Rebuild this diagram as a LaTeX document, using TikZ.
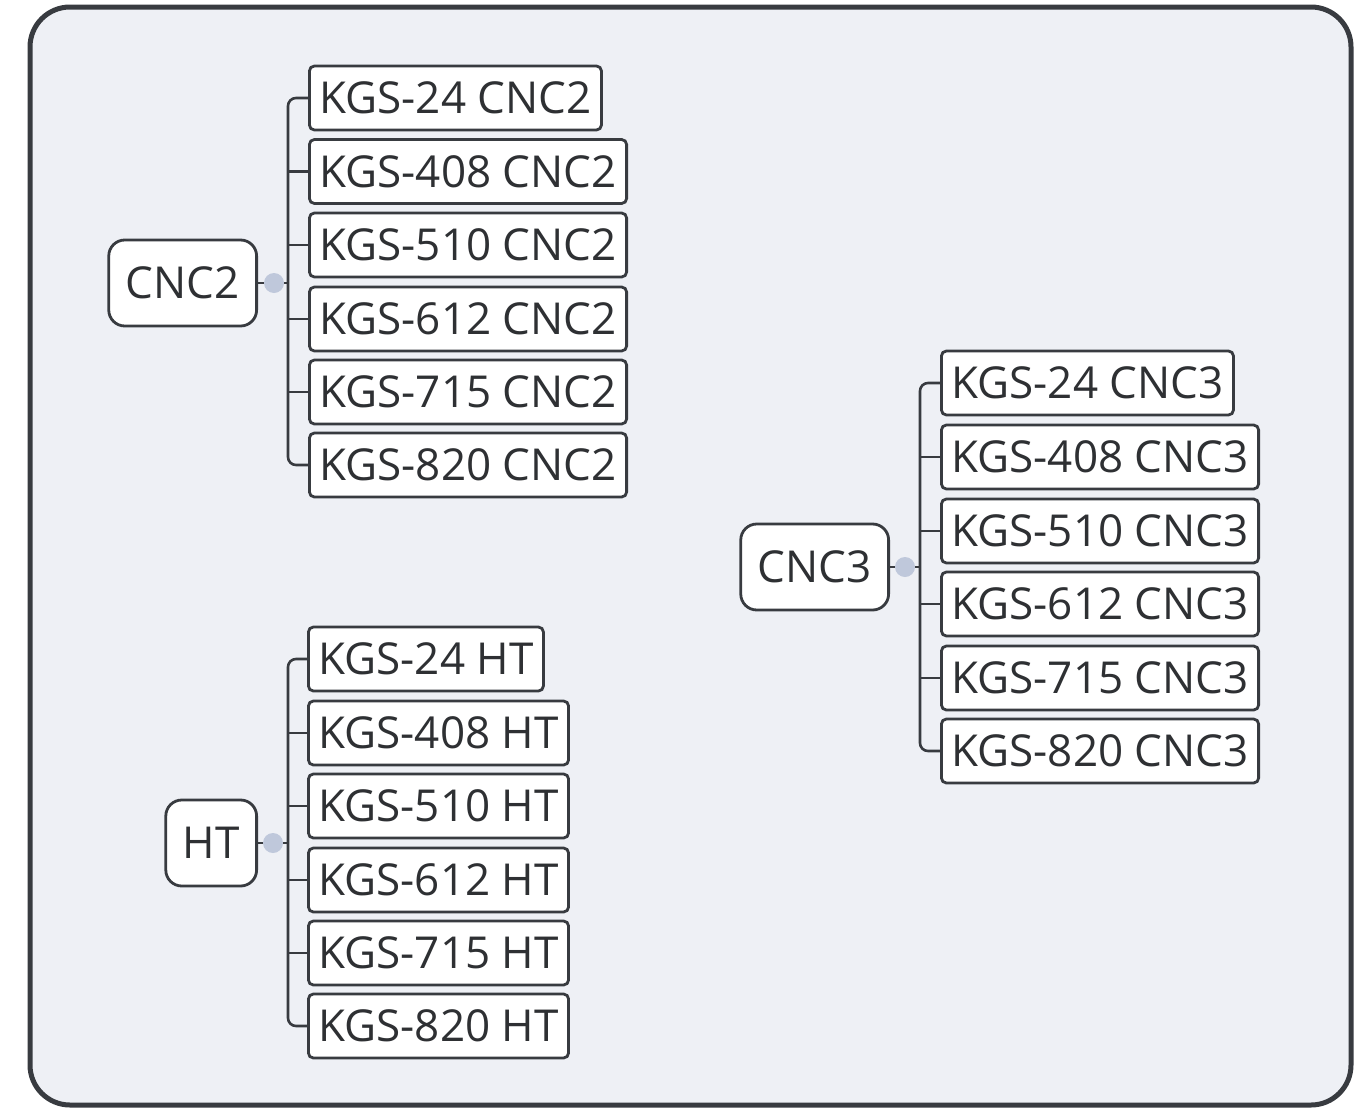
\documentclass[tikz,border=0pt]{standalone}
\usepackage{fontspec}
\setmainfont{Open Sans}
\definecolor{paper}{HTML}{EEF0F5}
\definecolor{linegray}{HTML}{383B40}
\definecolor{textgray}{HTML}{2E3033}
\definecolor{knobblue}{HTML}{BFC8DB}
\tikzset{
  topic/.style={rectangle,draw=linegray,fill=white,rounded corners=8pt,line width=1.4pt,
    minimum height=43pt,inner xsep=8.5pt,anchor=east,text=textgray,font=\fontsize{22}{26}\selectfont},
  subtopic/.style={rectangle,draw=linegray,fill=white,rounded corners=2.5pt,line width=1.4pt,
    minimum height=32pt,inner xsep=5pt,anchor=west,text=textgray,font=\fontsize{22}{26}\selectfont},
  knob/.style={circle,fill=knobblue,inner sep=0pt,minimum size=10pt},
  branch/.style={draw=linegray,line width=1.3pt,rounded corners=4pt}
}
\begin{document}
\begin{tikzpicture}[x=0.5pt,y=-0.5pt]
\useasboundingbox (0,0) rectangle (1359,1108);
% frame
\draw[fill=paper,draw=linegray,line width=2.5pt,rounded corners=20pt] (30,7) rectangle (1351,1105);

% CNC2
\node[topic] at (258,283) (cnc2) {CNC2};
\coordinate (t2) at (288,283);
\node[subtopic] at (308,98) (a1) {KGS-24 CNC2};
\node[subtopic] at (308,171.5) (a2) {KGS-408 CNC2};
\node[subtopic] at (308,245) (a3) {KGS-510 CNC2};
\node[subtopic] at (308,319) (a4) {KGS-612 CNC2};
\node[subtopic] at (308,392) (a5) {KGS-715 CNC2};
\node[subtopic] at (308,465) (a6) {KGS-820 CNC2};
\draw[branch] (a1.west) -| (t2) |- (a6.west);
\draw[branch] (a2.west) -- (a2.west -| t2);
\draw[branch] (a3.west) -- (a3.west -| t2);
\draw[branch] (a4.west) -- (a4.west -| t2);
\draw[branch] (a5.west) -- (a5.west -| t2);
\draw[branch] (cnc2.east) -- (t2);
\node[knob] at (274,283) (k2) {};

% CNC3
\node[topic] at (890,567) (cnc3) {CNC3};
\coordinate (t3) at (920,567);
\node[subtopic] at (940,383) (b1) {KGS-24 CNC3};
\node[subtopic] at (940,457) (b2) {KGS-408 CNC3};
\node[subtopic] at (940,531) (b3) {KGS-510 CNC3};
\node[subtopic] at (940,604) (b4) {KGS-612 CNC3};
\node[subtopic] at (940,678) (b5) {KGS-715 CNC3};
\node[subtopic] at (940,751) (b6) {KGS-820 CNC3};
\draw[branch] (b1.west) -| (t3) |- (b6.west);
\draw[branch] (b2.west) -- (b2.west -| t3);
\draw[branch] (b3.west) -- (b3.west -| t3);
\draw[branch] (b4.west) -- (b4.west -| t3);
\draw[branch] (b5.west) -- (b5.west -| t3);
\draw[branch] (cnc3.east) -- (t3);
\node[knob] at (905,567) (k3) {};

% HT
\node[topic] at (258,843) (ht) {HT};
\coordinate (th) at (288,843);
\node[subtopic] at (307,659) (c1) {KGS-24 HT};
\node[subtopic] at (307,733) (c2) {KGS-408 HT};
\node[subtopic] at (307,806) (c3) {KGS-510 HT};
\node[subtopic] at (307,880) (c4) {KGS-612 HT};
\node[subtopic] at (307,953) (c5) {KGS-715 HT};
\node[subtopic] at (307,1026) (c6) {KGS-820 HT};
\draw[branch] (c1.west) -| (th) |- (c6.west);
\draw[branch] (c2.west) -- (c2.west -| th);
\draw[branch] (c3.west) -- (c3.west -| th);
\draw[branch] (c4.west) -- (c4.west -| th);
\draw[branch] (c5.west) -- (c5.west -| th);
\draw[branch] (ht.east) -- (th);
\node[knob] at (273,843) (kh) {};
\end{tikzpicture}
\end{document}
